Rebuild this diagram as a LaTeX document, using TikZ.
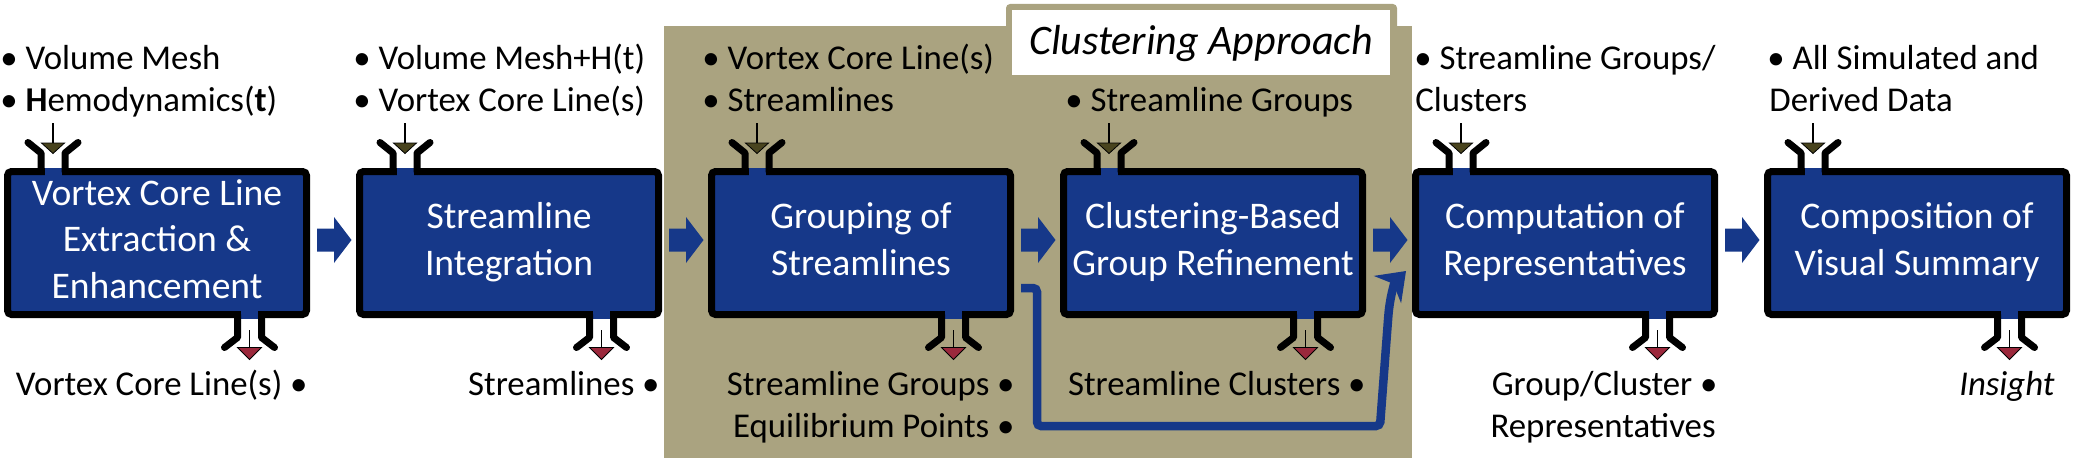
\documentclass[tikz,border=0pt]{standalone}
\usepackage{fontspec}
\setmainfont{Carlito}
\usetikzlibrary{calc,arrows.meta}
\definecolor{boxblue}{RGB}{22,56,137}
\definecolor{tanbg}{RGB}{170,163,128}
\definecolor{inolive}{RGB}{73,68,30}
\definecolor{outred}{RGB}{155,40,60}
\newcommand\bxdp{\rule[-0.21em]{0pt}{0pt}}
\tikzset{
  procbox/.style={draw=black, line width=3.5pt, fill=boxblue, rounded corners=2pt,
    minimum width=149.5pt, minimum height=71.5pt, inner sep=0pt, outer sep=0pt,
    text=white, font=\fontsize{18.8}{23.2}\selectfont, align=center},
  intext/.style={inner sep=0pt, anchor=base west, font=\fontsize{17.4}{21}\selectfont},
  outtext/.style={inner sep=0pt, anchor=base east, font=\fontsize{17.4}{21}\selectfont},
  portline/.style={draw=black, line width=3.5pt, line cap=round, line join=round},
  stemline/.style={draw=black, line width=0.6pt},
  fbarrow/.style={draw=boxblue, line width=4.25pt, rounded corners=2pt,
    -{Stealth[length=13pt,width=19pt,inset=4pt]}},
}
\newcommand\inport[1]{%
  \begin{scope}[shift={($(#1.north west)+(45.5,0)$)}]
    \fill[boxblue] (-8.5,-4) rectangle (8.5,4);
    \draw[portline] (-12,0) -- (-12,-18.5) -- (-25,-29);
    \draw[portline] (12,0) -- (12,-18.5) -- (25,-29);
    \draw[stemline] (0,-48.5) -- (0,-28.5);
    \filldraw[fill=inolive, draw=black, line width=0.4pt] (-11.5,-28.5) -- (11.5,-28.5) -- (0,-18) -- cycle;
  \end{scope}}
\newcommand\outport[1]{%
  \begin{scope}[shift={($(#1.south east)+(-57,0)$)}]
    \fill[boxblue] (-8.5,-4) rectangle (8.5,4);
    \draw[portline] (-12,0) -- (-12,23) -- (-25,33);
    \draw[portline] (12,0) -- (12,23) -- (25,33);
    \draw[stemline] (0,15.5) -- (0,33);
    \filldraw[fill=outred, draw=black, line width=0.4pt] (-12,33) -- (12,33) -- (0,45) -- cycle;
  \end{scope}}
\newcommand\fatarrow[2]{%
  \fill[boxblue] ($(#1.east)+(10.5,-14.5)$) -- ($(#2.west)+(-25.5,-14.5)$)
    -- ($(#2.west)+(-25.5,-26)$) -- ($(#2.west)+(-8,-3)$) -- ($(#2.west)+(-25.5,20)$)
    -- ($(#2.west)+(-25.5,8.5)$) -- ($(#1.east)+(10.5,8.5)$) -- cycle;}
\begin{document}
\begin{tikzpicture}[x=0.5pt,y=-0.5pt]
\useasboundingbox (0,0) rectangle (2075,465);
% clustering panel
\fill[tanbg] (664,26) rectangle (1412,458);
\fill[tanbg, rounded corners=2pt] (1006,40) -- (1006,4) -- (1397,4) -- (1397,40) -- cycle;
\fill[white] (1012,10) rectangle (1390,75);
\node[inner sep=0pt, anchor=base, font=\fontsize{21}{25}\selectfont\itshape] (ttl) at (1201,55) {Clustering Approach};
% process boxes
\node[procbox] (b1) at (157,243) {Vortex Core Line\\Extraction \&\\Enhancement\bxdp};
\node[procbox] (b2) at (509,243) {Streamline\\Integration\bxdp};
\node[procbox] (b3) at (861,243) {Grouping of\\Streamlines\bxdp};
\node[procbox] (b4) at (1213,243) {Clustering-Based\\Group Refinement\bxdp};
\node[procbox] (b5) at (1565,243) {Computation of\\Representatives\bxdp};
\node[procbox] (b6) at (1917,243) {Composition of\\Visual Summary\bxdp};
% main arrows
\fatarrow{b1}{b2}
\fatarrow{b2}{b3}
\fatarrow{b3}{b4}
\fatarrow{b4}{b5}
\fatarrow{b5}{b6}
% feedback arrow
\draw[fbarrow] ($(b3.east)+(10.5,45)$) -- ($(b3.east)+(26.5,45)$) -- ($(b3.east)+(26.5,183)$)
  -- ($(b4.south east)+(17.5,111.5)$) -- ($(b5.west)+(-27.5,77)$)
  .. controls ($(b5.west)+(-25.5,52)$) and ($(b5.west)+(-20.5,39)$) .. ($(b5.west)+(-9.5,28)$);
% ports
\foreach \b in {b1,b2,b3,b4,b5,b6}{\inport{\b}\outport{\b}}
% input texts
\node[intext] (i1a) at (0,70) {• Volume Mesh};
\node[intext] (i1b) at (0,112) {• \textbf{H}emodynamics(\textbf{t})};
\node[intext] (i2a) at (353,70) {• Volume Mesh+H(t)};
\node[intext] (i2b) at (353,112) {• Vortex Core Line(s)};
\node[intext] (i3a) at (702,70) {• Vortex Core Line(s)};
\node[intext] (i3b) at (702,112) {• Streamlines};
\node[intext] (i4a) at (1065,112) {• Streamline Groups};
\node[intext] (i5a) at (1414,70) {• Streamline Groups/};
\node[intext] (i5b) at (1415,112) {Clusters};
\node[intext] (i6a) at (1767,70) {• All Simulated and};
\node[intext] (i6b) at (1769,112) {Derived Data};
% output texts
\node[outtext] (o1a) at (308,395) {Vortex Core Line(s) •};
\node[outtext] (o2a) at (660,395) {Streamlines •};
\node[outtext] (o3a) at (1015,395) {Streamline Groups •};
\node[outtext] (o3b) at (1015,437) {Equilibrium Points •};
\node[outtext] (o4a) at (1366,395) {Streamline Clusters •};
\node[outtext] (o5a) at (1718,395) {Group/Cluster •};
\node[outtext] (o5b) at (1716,437) {Representatives};
\node[outtext] (o6a) at (2055,395) {\textit{Insight}};
\end{tikzpicture}
\end{document}
